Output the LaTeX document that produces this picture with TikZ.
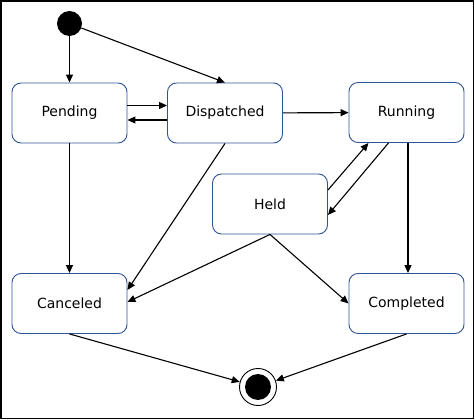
\documentclass[tikz,border=0pt]{standalone}
\usepackage{fontspec}
\setmainfont{DejaVu Sans}
\usepackage{xcolor}
\usepackage{tikz}
\usetikzlibrary{shapes,positioning,calc,arrows.meta}

\definecolor{stateblue}{HTML}{2F5597}

\begin{document}
\begin{tikzpicture}[x=1pt,y=-1pt,
    state/.style={draw=stateblue, line width=0.9pt, rounded corners=9pt, minimum width=115pt, minimum height=60pt, font=\fontsize{14}{16}\selectfont},
    trans/.style={draw, line width=1.1pt, -{Triangle[length=8pt,width=7pt]}}]
    \useasboundingbox (0,0) rectangle (475,420);
    \draw[line width=1.5pt] (1,1) rectangle (473.5,418.5);

    % Start and end points
    \node[circle, fill=black, minimum size=25pt, inner sep=0pt] (start) at (69.5,23.5) {};
    \node[circle, draw, line width=0.9pt, minimum size=37pt, inner sep=0pt] (stop) at (258,387) {};
    \fill (stop.center) circle[radius=13pt];

    % States
    \node[state] (pending) at (69.5,113) {Pending};
    \node[state] (dispatched) at (225,113) {Dispatched};
    \node[state] (running) at (406.5,112.5) {Running};
    \node[state] (held) at (270,204) {Held};
    \node[state] (canceled) at (69.5,303.5) {Canceled};
    \node[state] (completed) at (406.5,303.5) {Completed};

    % Transitions from the start
    \draw[trans] (start) -- (pending.north);
    \draw[trans] (start) -- (dispatched.north);

    % Pending <-> Dispatched
    \draw[trans] ([yshift=7.5pt]pending.east) -- ([yshift=7.5pt]dispatched.west);
    \draw[trans] ([yshift=-7pt]dispatched.west) -- ([yshift=-7pt]pending.east);
    \draw[trans] (dispatched) -- (running);

    % Running <-> Held
    \draw[trans] ([xshift=-18pt]running.south) -- ([yshift=-11pt]held.east);
    \draw[trans] ([yshift=14pt]held.east) -- ([xshift=-38pt]running.south);

    % To the end states
    \draw[trans] (pending) -- (canceled);
    \draw[trans] (dispatched.south) -- ([yshift=13.5pt]canceled.east);
    \draw[trans] (held.south) -- ([yshift=1.5pt]canceled.east);
    \draw[trans] (held.south) -- (completed.west);
    \draw[trans] ([xshift=1.5pt]running.south) -- ([xshift=1.5pt]completed.north);

    % To the stop
    \draw[trans] (canceled.south) -- (stop);
    \draw[trans] (completed.south) -- (stop);
\end{tikzpicture}
\end{document}
